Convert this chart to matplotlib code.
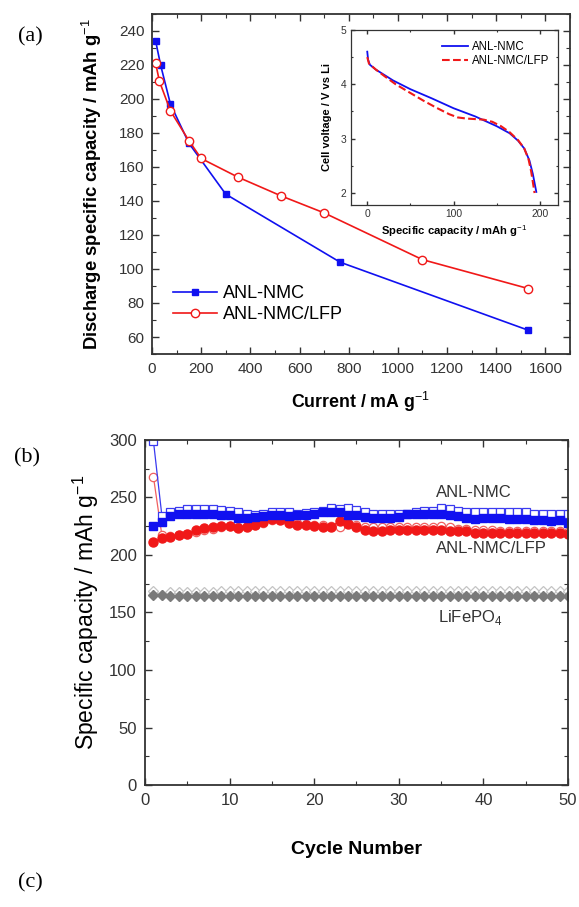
import matplotlib
matplotlib.use("Agg")
import matplotlib.pyplot as plt
from matplotlib.ticker import MultipleLocator

plt.rcParams['font.family'] = ['Liberation Sans', 'DejaVu Sans']
plt.rcParams['mathtext.fontset'] = 'custom'
plt.rcParams['mathtext.rm'] = 'Liberation Sans'
plt.rcParams['mathtext.bf'] = 'Liberation Sans:bold'

# (a) rate capability
current_nmc = [15, 35, 75, 150, 300, 765, 1530]
cap_nmc = [234, 220, 197, 174, 144, 104, 64]
current_lfp = [15, 30, 75, 150, 200, 350, 525, 700, 1100, 1530]
cap_lfp = [221, 210.5, 193, 175.5, 165, 154, 143, 133, 105.5, 88.5]

# (a) inset: discharge curves
inset_cap_nmc = [0, 1, 3, 10, 20, 30, 50, 75, 100, 125, 150, 165, 175, 182, 188, 192, 196]
inset_v_nmc = [4.6, 4.45, 4.36, 4.27, 4.17, 4.07, 3.91, 3.74, 3.56, 3.41, 3.23, 3.1, 2.96, 2.82, 2.6, 2.35, 2.02]
inset_cap_lfp = [0, 2, 10, 20, 33, 50, 65, 80, 95, 105, 115, 125, 135, 145, 155, 165, 175, 182, 187, 190, 193, 194]
inset_v_lfp = [4.5, 4.38, 4.27, 4.15, 4.0, 3.84, 3.7, 3.57, 3.45, 3.39, 3.37, 3.36, 3.35, 3.31, 3.23, 3.12, 2.97, 2.82, 2.62, 2.4, 2.1, 2.0]

# (b) cycling
cycles = list(range(1, 51))
nmc_dis = [225, 229, 234, 235.5, 236, 235.5, 235.5, 235.5, 235, 234.5,
           232.5, 232.5, 233, 234, 234.5, 235, 234, 235, 235, 236,
           237, 237.5, 237, 235, 235, 233, 232.5, 232.5, 232.5, 233,
           235.5, 236, 236, 236, 236, 235, 234, 232.5, 231.5, 232,
           232, 232, 231.5, 231, 231, 230.5, 230.5, 229.5, 230, 228]
nmc_chg = [299, 234, 237, 238.5, 240, 240, 240, 240, 239.5, 238,
           237, 236, 235, 236, 237, 237, 237, 236, 236.5, 237,
           238.5, 241, 240, 240.5, 239.5, 237.5, 236, 236, 236, 236,
           236, 237.5, 238.5, 238, 240.5, 240, 238.5, 237, 237, 237,
           237, 237, 237, 237, 237, 236, 236, 236, 236, 236]
lfp_dis = [211.5, 214.5, 216, 217, 218, 222, 223.5, 224.5, 225.5, 225.5,
           223.5, 224.5, 226, 228.5, 231, 230, 227.5, 226, 226, 225.5,
           224.5, 224.5, 229.5, 227, 224.5, 221.5, 221, 221, 221.5, 221.5,
           221.5, 222, 221.5, 221.5, 221.5, 221, 221, 221, 219.5, 219.5,
           219.5, 219.5, 219.5, 219.5, 219.5, 219, 219, 219, 219, 218.5]
lfp_chg = [268, 217, 216.5, 217.5, 218.5, 220, 221.5, 223, 224, 225,
           224, 225, 226.5, 228, 230, 231, 229, 227.5, 227, 226.5,
           226, 225.5, 224.5, 228, 226, 224.5, 224, 224, 224, 224.5,
           224.5, 224.5, 224.5, 224.5, 225, 224.5, 223, 222.5, 222, 221.5,
           221.5, 221, 221, 221, 221, 220.5, 220.5, 220.5, 220.5, 220]
lfpo4_dis = [165, 165, 164.5, 164.5, 164.5, 164.5, 164.5, 164.5, 164.5, 164.5,
             164.5, 164.5, 164.5, 164.5, 164.5, 164.5, 164.5, 164.5, 164.5, 164.5,
             164.5, 164.5, 164.5, 164.5, 164.5, 164.5, 164.5, 164.5, 164.5, 164.5,
             164.5, 164.5, 164.5, 164.5, 164.5, 164.5, 164.5, 164.5, 164.5, 164.5,
             164.5, 164.5, 164.5, 164.5, 164.5, 164.5, 164.5, 164.5, 164.5, 164.5]
lfpo4_chg = [169, 165, 168, 168, 168, 168, 168, 168, 168.5, 168.5,
             168.5, 168.5, 168.5, 168.5, 168.5, 168.5, 169, 169, 169, 169,
             168.5, 168.5, 168.5, 168.5, 168.5, 168.5, 168.5, 168.5, 168.5, 168.5,
             168.5, 168.5, 168.5, 168.5, 168.5, 168.5, 168.5, 168.5, 168.5, 168.5,
             168.5, 168.5, 168.5, 168.5, 168.5, 168.5, 168.5, 168.5, 168.5, 168.5]

BLUE = '#1010f0'
RED = '#f01818'


def style_axes(ax, lw=1.3, major=5, minor=3, size=9, pad=6):
    for s in ax.spines.values():
        s.set_linewidth(lw)
        s.set_color('#333333')
    ax.tick_params(which='both', direction='in', top=True, right=True,
                   color='#333333', labelsize=size, labelcolor='#333333', pad=pad)
    ax.tick_params(which='major', length=major, width=1)
    ax.tick_params(which='minor', length=minor, width=0.8)


fig = plt.figure(figsize=(5.79, 9.07), dpi=100)

# ---- panel (a)
ax1 = fig.add_axes([0.2625, 0.6097, 0.722, 0.3749])
ax1.plot(current_nmc, cap_nmc, '-s', color=BLUE, ms=5, lw=1.2, label='ANL-NMC')
ax1.plot(current_lfp, cap_lfp, '-o', color=RED, mfc='white', ms=6, mew=1,
         lw=1.2, label='ANL-NMC/LFP')
ax1.set_xlim(0, 1700)
ax1.set_ylim(50, 250)
ax1.xaxis.set_major_locator(MultipleLocator(200))
ax1.xaxis.set_minor_locator(MultipleLocator(100))
ax1.yaxis.set_minor_locator(MultipleLocator(10))
ax1.set_yticks([60, 80, 100, 120, 140, 160, 180, 200, 220, 240])
style_axes(ax1, size=11, pad=5.5)
ax1.set_ylabel('Discharge specific capacity / mAh g$^{-1}$', fontsize=13.3,
               fontweight='bold', va='center')
ax1.yaxis.set_label_coords(-0.1435, 0.5)
ax1.set_xlabel('Current / mA g$^{-1}$', fontsize=12.8, fontweight='bold', va='center')
ax1.xaxis.set_label_coords(0.5, -0.141)
ax1.legend(loc='center left', bbox_to_anchor=(0.05, 0.147), frameon=False,
           fontsize=13, handlelength=2.45, handletextpad=0.3, labelspacing=0.2,
           borderpad=0, borderaxespad=0)

# inset
ins = fig.add_axes([0.606, 0.774, 0.3575, 0.193])
ins.plot(inset_cap_nmc, inset_v_nmc, '-', color=BLUE, lw=1.3, label='ANL-NMC')
ins.plot(inset_cap_lfp, inset_v_lfp, '--', color=RED, lw=1.5, label='ANL-NMC/LFP')
ins.set_xlim(-19, 221)
ins.set_ylim(1.78, 5.0)
ins.xaxis.set_major_locator(MultipleLocator(100))
ins.xaxis.set_minor_locator(MultipleLocator(50))
ins.yaxis.set_major_locator(MultipleLocator(1))
ins.yaxis.set_minor_locator(MultipleLocator(0.5))
style_axes(ins, lw=0.9, major=3, minor=1.5, size=7.4, pad=3)
ins.set_ylabel('Cell voltage / V vs Li', fontsize=8, fontweight='bold', va='center')
ins.yaxis.set_label_coords(-0.115, 0.5)
ins.set_xlabel('Specific capacity / mAh g$^{-1}$', fontsize=8.1, fontweight='bold',
               va='center')
ins.xaxis.set_label_coords(0.5, -0.152)
ins.legend(loc='center left', bbox_to_anchor=(0.44, 0.863), frameon=False,
           fontsize=8.3, handlelength=2.3, handletextpad=0.3, labelspacing=0.15,
           borderpad=0, borderaxespad=0)

# ---- panel (b)
ax2 = fig.add_axes([0.2504, 0.1345, 0.7306, 0.3804])
ax2.plot(cycles, lfpo4_chg, '-D', color='#c4c4c4', mfc='white', ms=5.5, mew=0.9, lw=0.8)
ax2.plot(cycles, lfpo4_dis, '-D', color='#7a7a7a', ms=5.5, lw=0.8)
ax2.plot(cycles, lfp_chg, '-o', color='#f06060', mfc='white', ms=6, mew=0.9, lw=0.9)
ax2.plot(cycles, lfp_dis, '-o', color=RED, ms=6.5, lw=0.9)
ax2.plot(cycles, nmc_chg, '-s', color='#3a3af0', mfc='white', ms=5.5, mew=0.9, lw=0.9)
ax2.plot(cycles, nmc_dis, '-s', color=BLUE, ms=5.8, lw=0.9)
ax2.set_xlim(0, 50)
ax2.set_ylim(0, 300)
ax2.xaxis.set_major_locator(MultipleLocator(10))
ax2.xaxis.set_minor_locator(MultipleLocator(5))
ax2.yaxis.set_major_locator(MultipleLocator(50))
ax2.yaxis.set_minor_locator(MultipleLocator(25))
style_axes(ax2, size=12, pad=6)
ax2.set_ylabel('Specific capacity / mAh g$^{-1}$', fontsize=16.5, va='center')
ax2.yaxis.set_label_coords(-0.139, 0.5)
ax2.set_xlabel('Cycle Number', fontsize=14, fontweight='bold', va='center')
ax2.xaxis.set_label_coords(0.5, -0.188)
ax2.text(34.4, 254, 'ANL-NMC', fontsize=12, color='#333333', va='center')
ax2.text(34.4, 206, 'ANL-NMC/LFP', fontsize=12, color='#333333', va='center')
ax2.text(34.6, 146, 'LiFePO$_4$', fontsize=12, color='#333333', va='center')

# panel letters
fig.text(30 / 579, 1 - 37 / 907, '(a)', family='Liberation Serif', fontsize=16,
         ha='center', va='center')
fig.text(27 / 579, 1 - 458 / 907, '(b)', family='Liberation Serif', fontsize=16,
         ha='center', va='center')
fig.text(30 / 579, 1 - 883 / 907, '(c)', family='Liberation Serif', fontsize=16,
         ha='center', va='center')

fig.savefig('out.png', dpi=100)
